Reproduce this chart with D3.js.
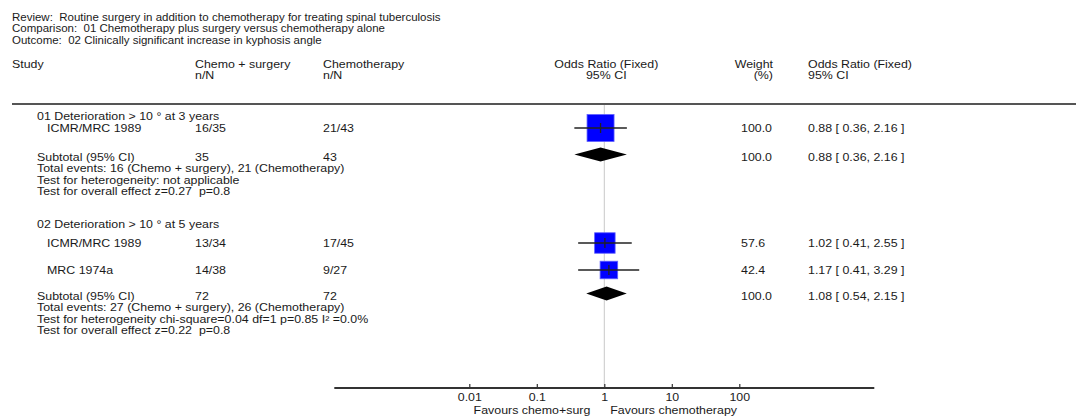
<!DOCTYPE html>
<html><head><meta charset="utf-8">
<script src="https://cdn.jsdelivr.net/npm/d3@7"></script>
<style>
html,body{margin:0;padding:0;background:#fff;}
svg text{font-family:"Liberation Sans",Arial,sans-serif;font-size:10px;fill:#1a1a1a;white-space:pre;}
</style></head>
<body>
<svg id="chart" width="1076" height="419"></svg>
<script>
// ---- data ----
const titleLines = [
  "Review:  Routine surgery in addition to chemotherapy for treating spinal tuberculosis",
  "Comparison:  01 Chemotherapy plus surgery versus chemotherapy alone",
  "Outcome:  02 Clinically significant increase in kyphosis angle"
];
const groupLabels = ["01 Deterioration > 10 ° at 3 years", "02 Deterioration > 10 ° at 5 years"];
const studyNames = ["ICMR/MRC 1989", "ICMR/MRC 1989", "MRC 1974a"];
const studyGroup = [0, 1, 1];
const treatNN = ["16/35", "13/34", "14/38"];
const controlNN = ["21/43", "17/45", "9/27"];
const studyWeight = [100.0, 57.6, 42.4];
const studyOR = [0.88, 1.02, 1.17];
const studyLo = [0.36, 0.41, 0.41];
const studyHi = [2.16, 2.55, 3.29];
const subTreatN = [35, 72];
const subControlN = [43, 72];
const subWeight = [100.0, 100.0];
const subOR = [0.88, 1.08];
const subLo = [0.36, 0.54];
const subHi = [2.16, 2.15];
const footnotes = [
  ["Total events: 16 (Chemo + surgery), 21 (Chemotherapy)",
   "Test for heterogeneity: not applicable",
   "Test for overall effect z=0.27  p=0.8"],
  ["Total events: 27 (Chemo + surgery), 26 (Chemotherapy)",
   "Test for heterogeneity chi-square=0.04 df=1 p=0.85 I\u00B2 =0.0%",
   "Test for overall effect z=0.22  p=0.8"]
];
const axisTicks = [0.01, 0.1, 1, 10, 100];
const axisTickLabels = ["0.01", "0.1", "1", "10", "100"];
const favourLabels = ["Favours chemo+surg", "Favours chemotherapy"];

// ---- layout ----
const svg = d3.select("#chart");
const SX = 1.24;       // horizontal stretch of the glyphs (reference font is short and wide)
const SX_TITLE = 1.15;
const colStudy = 12, colTreat = 195, colCtrl = 323, colWeight = 741, colOR = 808;
const groupY = [116, 224];
const studyY = [128, 243, 270];
const subY = [157, 296];
const footY = [[168.5, 180, 191.5], [307.5, 319, 330.5]];
const headerLineY = 104, axisY = 388;

const x = d3.scaleLog().domain([0.0001, 10000]).range([334.3, 874.3]);
const sizeScale = d3.scaleSqrt().domain([0, 100]).range([0, 27]);

function txt(s, xx, yy, anchor, sx) {
  svg.append("text").attr("transform", `translate(${xx},${yy}) scale(${sx || SX},1)`)
    .attr("dy", "0.35em").attr("text-anchor", anchor || "start").text(s);
}

titleLines.forEach((t, i) => txt(t, colStudy, 17 + i * 11.5, "start", SX_TITLE));

// header
txt("Study", colStudy, 64);
txt("Chemo + surgery", colTreat, 64); txt("n/N", colTreat, 75);
txt("Chemotherapy", colCtrl, 64); txt("n/N", colCtrl, 75);
txt("Odds Ratio (Fixed)", x(1) + 2, 64, "middle"); txt("95% CI", x(1) + 2, 75, "middle");
txt("Weight", 773, 64, "end"); txt("(%)", 773, 75, "end");
txt("Odds Ratio (Fixed)", colOR, 64); txt("95% CI", colOR, 75);

svg.append("line").attr("x1", 12).attr("x2", 1076).attr("y1", headerLineY).attr("y2", headerLineY)
  .attr("stroke", "#555").attr("stroke-width", 2);

// vertical line at 1
svg.append("line").attr("x1", x(1)).attr("x2", x(1)).attr("y1", headerLineY + 1).attr("y2", axisY)
  .attr("stroke", "#c8c8c8").attr("stroke-width", 1);

const fmt2 = d3.format(".2f"), fmt1 = d3.format(".1f");
const ciText = (o, l, h) => `${fmt2(o)} [ ${fmt2(l)}, ${fmt2(h)} ]`;

groupLabels.forEach((g, gi) => {
  txt(g, 37, groupY[gi]);
  txt("Subtotal (95% CI)", 37, subY[gi]);
  txt(String(subTreatN[gi]), colTreat, subY[gi]);
  txt(String(subControlN[gi]), colCtrl, subY[gi]);
  txt(fmt1(subWeight[gi]), colWeight, subY[gi]);
  txt(ciText(subOR[gi], subLo[gi], subHi[gi]), colOR, subY[gi]);
  footnotes[gi].forEach((f, fi) => txt(f, 37, footY[gi][fi]));
  const cy = subY[gi] - 2.5, hh = 7;
  svg.append("path")
    .attr("d", `M${x(subLo[gi])},${cy} L${x(subOR[gi])},${cy - hh} L${x(subHi[gi])},${cy} L${x(subOR[gi])},${cy + hh} Z`)
    .attr("fill", "#000");
});

studyNames.forEach((s, i) => {
  const y = studyY[i];
  txt(s, 47, y);
  txt(treatNN[i], colTreat, y);
  txt(controlNN[i], colCtrl, y);
  txt(fmt1(studyWeight[i]), colWeight, y);
  txt(ciText(studyOR[i], studyLo[i], studyHi[i]), colOR, y);
  const sz = sizeScale(studyWeight[i]);
  const cx = x(studyOR[i]), cy = y;
  svg.append("rect").attr("x", cx - sz / 2).attr("y", cy - sz / 2).attr("width", sz).attr("height", sz)
    .attr("fill", "#0000ff").attr("stroke", "#6060ff").attr("stroke-width", 0.8);
  svg.append("line").attr("x1", x(studyLo[i])).attr("x2", x(studyHi[i])).attr("y1", cy).attr("y2", cy)
    .attr("stroke", "#222").attr("stroke-width", 1.3);
  svg.append("line").attr("x1", cx).attr("x2", cx).attr("y1", cy - 5).attr("y2", cy + 5)
    .attr("stroke", "#222").attr("stroke-width", 1.3);
});

// axis
const axis = d3.axisBottom(x).tickValues(axisTicks).tickFormat((d, i) => axisTickLabels[i]).tickSize(0).tickPadding(6);
const ag = svg.append("g").attr("transform", `translate(0,${axisY})`).call(axis);
ag.select(".domain").attr("stroke", "#333").attr("stroke-width", 2).attr("d", `M${x.range()[0]},0H${x.range()[1]}`);
ag.selectAll(".tick text").attr("font-family", null).attr("font-size", null).attr("fill", null)
  .attr("transform", `scale(${SX},1)`);
ag.selectAll(".tick").append("line").attr("y1", -4).attr("y2", 0).attr("stroke", "#333").attr("stroke-width", 1.2);

txt(favourLabels[0], x(1) - 14, 410, "end");
txt(favourLabels[1], x(1) + 6, 410, "start");
</script>
</body></html>
